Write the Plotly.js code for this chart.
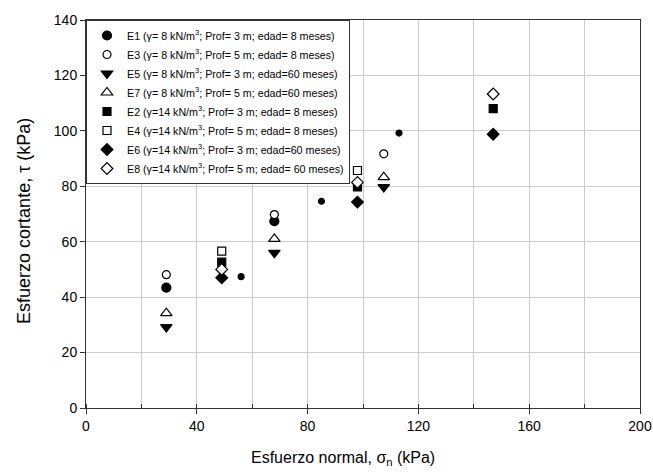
<!DOCTYPE html>
<html>
<head>
<meta charset="utf-8">
<script src="https://cdn.plot.ly/plotly-3.0.1.min.js"></script>
<style>html,body{margin:0;padding:0;background:#fff;}#chart{width:653px;height:472px;}</style>
</head>
<body>
<div id="chart"></div>
<script>
// Data
const seriesNames = [
  "E1 (γ= 8 kN/m<sup>3</sup>; Prof= 3 m; edad= 8 meses)",
  "E3 (γ= 8 kN/m<sup>3</sup>; Prof= 5 m; edad= 8 meses)",
  "E5 (γ= 8 kN/m<sup>3</sup>; Prof= 3 m; edad=60 meses)",
  "E7 (γ= 8 kN/m<sup>3</sup>; Prof= 5 m; edad=60 meses)",
  "E2 (γ=14 kN/m<sup>3</sup>; Prof= 3 m; edad= 8 meses)",
  "E4 (γ=14 kN/m<sup>3</sup>; Prof= 5 m; edad= 8 meses)",
  "E6 (γ=14 kN/m<sup>3</sup>; Prof= 3 m; edad=60 meses)",
  "E8 (γ=14 kN/m<sup>3</sup>; Prof= 5 m; edad= 60 meses)"
];
const e1X = [29, 68];          const e1Y = [43.4, 67.4];
const e1SmallX = [56, 85, 113]; const e1SmallY = [47.4, 74.6, 99.2];
const e3X = [29, 68, 107.5, 147]; const e3Y = [48.1, 69.8, 91.7, 113.3];
const e5X = [29, 68, 107.5];   const e5Y = [29.2, 56.0, 79.7];
const e7X = [29, 68, 107.5];   const e7Y = [34.2, 61.0, 83.3];
const e2X = [49, 98, 147];     const e2Y = [52.6, 79.8, 108.0];
const e4X = [49, 98];          const e4Y = [56.6, 85.7];
const e6X = [49, 98, 147];     const e6Y = [47.0, 74.3, 98.8];
const e8X = [49, 98, 147];     const e8Y = [50.0, 81.4, 113.3];

const xTickVals = [0, 40, 80, 120, 160, 200];
const yTickVals = [0, 20, 40, 60, 80, 100, 120, 140];
const xTitle = 'Esfuerzo normal, σ<sub>n</sub> (kPa)';
const yTitle = 'Esfuerzo cortante, τ (kPa)';

function mk(name, x, y, symbol, filled, size, showlegend) {
  return {
    type: 'scatter', mode: 'markers', name: name, x: x, y: y,
    showlegend: showlegend,
    marker: {
      symbol: symbol, size: size,
      color: filled ? '#000' : '#fff',
      line: {color: '#000', width: 1.2}
    },
    hoverinfo: 'x+y'
  };
}

const traces = [
  mk(seriesNames[0], e1X, e1Y, 'circle', true, 9, true),
  mk(seriesNames[1], e3X, e3Y, 'circle', false, 8, true),
  mk(seriesNames[2], e5X, e5Y, 'triangle-down', true, 10, true),
  mk(seriesNames[3], e7X, e7Y, 'triangle-up', false, 10, true),
  mk(seriesNames[4], e2X, e2Y, 'square', true, 8, true),
  mk(seriesNames[5], e4X, e4Y, 'square', false, 8, true),
  mk(seriesNames[6], e6X, e6Y, 'diamond', true, 9, true),
  mk(seriesNames[7], e8X, e8Y, 'diamond', false, 9, true),
  mk('E1', e1SmallX, e1SmallY, 'circle', true, 6, false)
];

const layout = {
  width: 653, height: 472,
  margin: {l: 86, r: 13, t: 20, b: 64},
  paper_bgcolor: '#fff', plot_bgcolor: '#fff',
  font: {family: 'Liberation Sans, Arial, sans-serif', color: '#000', size: 14},
  showlegend: true,
  legend: {
    x: 0, y: 1, xanchor: 'left', yanchor: 'top',
    bgcolor: '#fff', bordercolor: '#333', borderwidth: 1,
    font: {size: 10.7, family: 'Liberation Sans, Arial, sans-serif'},
    tracegroupgap: 0, itemsizing: 'trace'
  },
  xaxis: {
    range: [0, 200], tickvals: xTickVals, ticks: 'outside', ticklen: 5,
    tickcolor: '#333', showline: true, linecolor: '#333', linewidth: 1, mirror: true,
    showgrid: true, gridcolor: '#cccccc', gridwidth: 1, zeroline: false,
    minor: {dtick: 20, showgrid: true, gridcolor: '#cccccc', gridwidth: 1, ticks: 'inside', ticklen: 4, tickcolor: '#333'},
    tickfont: {size: 14}
  },
  yaxis: {
    range: [0, 140], tickvals: yTickVals, ticks: 'outside', ticklen: 5,
    tickcolor: '#333', showline: true, linecolor: '#333', linewidth: 1, mirror: true,
    showgrid: true, gridcolor: '#cccccc', gridwidth: 1, zeroline: false,
    tickfont: {size: 14}
  },
  annotations: [
    {text: xTitle, xref: 'paper', yref: 'paper', x: 0.464, y: -0.131,
     xanchor: 'center', yanchor: 'middle', showarrow: false, font: {size: 16}},
    {text: yTitle, xref: 'paper', yref: 'paper', x: -0.112, y: 0.482,
     xanchor: 'center', yanchor: 'middle', showarrow: false, textangle: -90, font: {size: 18}}
  ]
};

Plotly.newPlot('chart', traces, layout, {displayModeBar: false, staticPlot: true});
</script>
</body>
</html>
